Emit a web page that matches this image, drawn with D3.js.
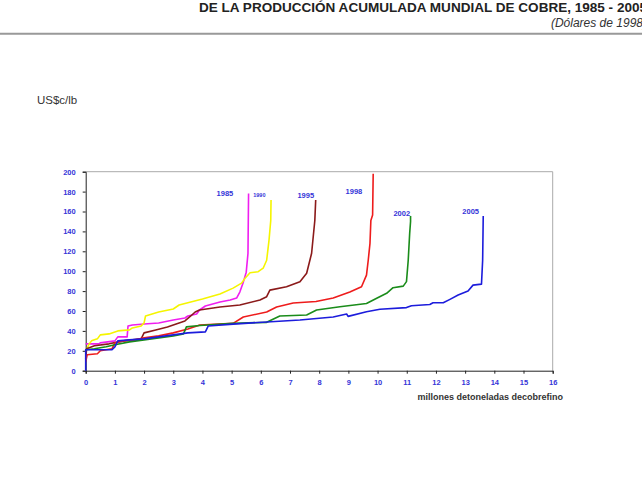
<!DOCTYPE html>
<html>
<head>
<meta charset="utf-8">
<script src="https://cdn.jsdelivr.net/npm/d3@7"></script>
<style>
body { margin: 0; background: #fff; }
svg { display: block; font-family: "Liberation Sans", Arial, sans-serif; }
.tick text { font-size: 7.5px; font-weight: bold; fill: #3535d8; }
</style>
</head>
<body>
<script>
// curva de costos: [millones t acumuladas, US c/lb]
var years = ["1985", "1990", "1995", "1998", "2002", "2005"];
var colors = ["#f01ef0", "#f5f500", "#8b1a1a", "#ee1c1c", "#1a8c1a", "#1c1cdc"];

var c1985 = [[0,27],[0.45,27],[0.5,28],[1.0,30],[1.1,34],[1.42,34],[1.45,45],[1.6,46],[2.0,47],[2.5,48],[3.0,51],[3.4,53],[3.5,55],[3.8,57],[3.9,61],[4.1,65],[4.6,69],[4.95,71],[5.17,73],[5.28,79],[5.4,89],[5.5,99],[5.56,118],[5.58,178]];
var c1990 = [[0.05,22],[0.1,26],[0.2,30],[0.4,32],[0.5,36],[0.8,37],[1.1,40],[1.5,41],[1.6,43],[1.9,45],[2.0,48],[2.05,55],[2.5,59],[3.0,62],[3.2,66],[3.6,69],[4.0,72],[4.6,77],[5.05,83],[5.34,88],[5.46,93],[5.63,98.5],[5.91,99.5],[6.08,103],[6.2,111],[6.28,131],[6.34,151],[6.35,171.5]];
var c1995 = [[0,12],[0.03,22],[0.3,25],[0.8,27],[1.3,30],[1.9,32],[2.0,38],[2.4,41],[2.8,44],[3.1,47],[3.4,50],[3.6,55],[3.75,59],[3.9,61],[4.6,64],[5.28,66],[5.97,71],[6.2,74.4],[6.31,81],[6.88,84.4],[7.34,89.5],[7.57,98],[7.74,118],[7.85,151],[7.88,171.5]];
var c1998 = [[0,9],[0.05,16],[0.4,17],[0.5,20],[0.9,22],[1.0,28],[1.3,30],[1.7,31],[2.0,33],[2.5,35],[3.0,38],[3.5,42],[3.91,46],[5.05,47.6],[5.4,54],[6.2,59],[6.54,64],[7.11,68],[7.89,69.5],[8.48,73],[9.05,79],[9.45,84.4],[9.62,96],[9.68,111],[9.74,128],[9.77,151],[9.83,156.5],[9.85,198]];
var c2002 = [[0,21],[0.3,22],[0.7,24],[1.0,26],[1.5,29],[2.0,31],[2.5,33],[3.0,35],[3.35,37],[3.45,44],[3.91,45.5],[5.05,47.6],[6.2,48.6],[6.65,55],[7.57,56],[7.91,61],[8.71,64.3],[9.62,67.5],[9.97,72.8],[10.31,77.8],[10.53,83.4],[10.88,85],[10.99,89.5],[11.05,111],[11.1,138],[11.13,150],[11.13,155.5]];
var c2005 = [[0,0],[0,21],[0.9,21],[1.0,24],[1.1,30],[1.5,31],[2.0,32],[2.5,34],[3.0,36],[3.5,38],[4.1,39],[4.2,45],[5.05,46.8],[6.2,49],[7.34,51],[8.48,54],[8.94,57],[8.99,54.6],[9.62,59.3],[10.08,61.7],[10.99,63.4],[11.16,65.3],[11.79,66.5],[11.9,68.3],[12.25,68.3],[12.48,71.7],[12.76,76],[13.1,80],[13.27,86],[13.56,87],[13.6,111],[13.62,155.5]];
var curves = [c1985, c1990, c1995, c1998, c2002, c2005];

// donde va cada etiqueta de año (unidades del grafico)
var labelAt = [[4.77,178.2],[5.95,176.9],[7.54,175.9],[9.19,180.6],[10.83,158.2],[13.19,160.5]];
var labelSize = [7.5, 5.5, 7.5, 7.5, 7.5, 7.5];

var xTicks = d3.range(0, 17);
var yTicks = [0,20,40,60,80,100,120,140,160,180,200];

var width = 642, height = 478;
var svg = d3.select("body").append("svg").attr("width", width).attr("height", height);

var x = d3.scaleLinear().domain([0, 16]).range([85.7, 552.7]);
var y = d3.scaleLinear().domain([0, 200]).range([370.7, 171.7]);

// titulo (cortado a la derecha como en el original)
svg.append("text").attr("x", 199).attr("y", 12)
	.attr("textLength", 448).attr("lengthAdjust", "spacingAndGlyphs")
	.style("font-size", "12.5px").style("font-weight", "bold").attr("fill", "#222")
	.text("DE LA PRODUCCIÓN ACUMULADA MUNDIAL DE COBRE, 1985 - 2005");
svg.append("text").attr("x", 647).attr("y", 27).attr("text-anchor", "end")
	.style("font-size", "12px").style("font-style", "italic").attr("fill", "#333")
	.text("(Dólares de 1998)");
svg.append("line").attr("x1", 0).attr("x2", width).attr("y1", 33.7).attr("y2", 33.7)
	.attr("stroke", "#999").attr("stroke-width", 2);

svg.append("text").attr("x", 37).attr("y", 104)
	.style("font-size", "11.5px").attr("fill", "#333").text("US$c/lb");

// marco gris arriba y a la derecha
svg.append("path")
	.attr("d", "M" + x(0) + "," + y(200) + "H" + x(16) + "V" + y(0))
	.attr("fill", "none").attr("stroke", "#aaa").attr("stroke-width", 1);

var yAxis = svg.append("g").attr("transform", "translate(" + x(0) + ",0)")
	.call(d3.axisLeft(y).tickValues(yTicks).tickSize(3).tickPadding(7));
var xAxis = svg.append("g").attr("transform", "translate(0," + y(0) + ")")
	.call(d3.axisBottom(x).tickValues(xTicks).tickSize(3).tickPadding(6));
[xAxis, yAxis].forEach(function(a){
	a.select(".domain").attr("stroke", "#222");
	a.selectAll(".tick line").attr("stroke", "#222");
});

var line = d3.line().x(function(d){ return x(d[0]); }).y(function(d){ return y(d[1]); });

svg.selectAll(".curve")
	.data(curves)
	.enter()
		.append("path")
		.attr("class", "curve")
		.attr("d", line)
		.attr("fill", "none")
		.attr("stroke", function(d, i){ return colors[i]; })
		.attr("stroke-width", 1.6)
		.attr("stroke-linejoin", "round");

svg.selectAll(".yr")
	.data(years)
	.enter()
		.append("text")
		.attr("class", "yr")
		.attr("x", function(d, i){ return x(labelAt[i][0]); })
		.attr("y", function(d, i){ return y(labelAt[i][1]); })
		.attr("dy", "0.35em")
		.attr("text-anchor", "middle")
		.style("font-size", function(d, i){ return labelSize[i] + "px"; })
		.style("font-weight", "bold")
		.attr("fill", "#3535d8")
		.text(function(d){ return d; });

svg.append("text").attr("x", 563).attr("y", 400).attr("text-anchor", "end")
	.style("font-size", "9px").style("font-weight", "bold").attr("fill", "#333")
	.text("millones detoneladas decobrefino");
</script>
</body>
</html>
